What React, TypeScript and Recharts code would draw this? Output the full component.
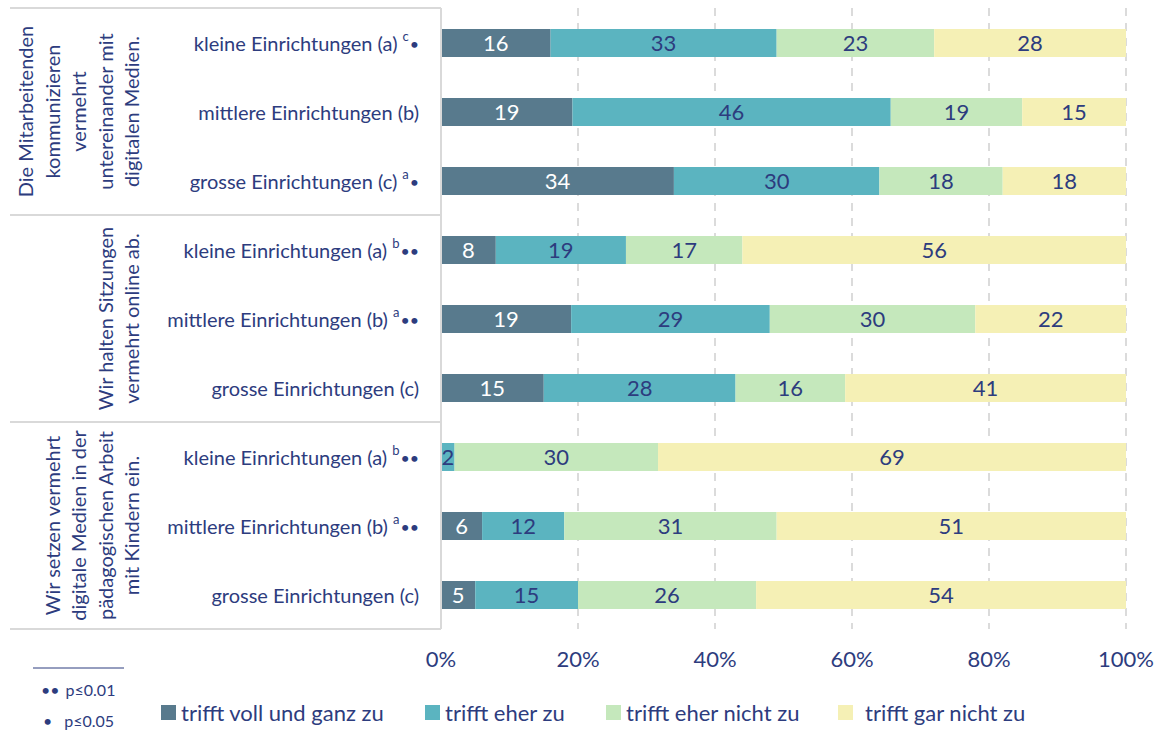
import { BarChart, Bar, XAxis, YAxis, CartesianGrid, LabelList } from "recharts";

const NAVY = "#2D3C7E";
const FONT = "Lato, 'Open Sans', sans-serif";

const categories = [
  "kleine Einrichtungen (a)",
  "mittlere Einrichtungen (b)",
  "grosse Einrichtungen (c)",
  "kleine Einrichtungen (a)",
  "mittlere Einrichtungen (b)",
  "grosse Einrichtungen (c)",
  "kleine Einrichtungen (a)",
  "mittlere Einrichtungen (b)",
  "grosse Einrichtungen (c)",
];
const sigLetters = ["c", "", "a", "b", "a", "", "b", "a", ""];
const sigDots = ["•", "", "•", "••", "••", "", "••", "••", ""];

const groupLines = [
  ["Die Mitarbeitenden", "kommunizieren", "vermehrt", "untereinander mit", "digitalen Medien."],
  ["Wir halten Sitzungen", "vermehrt online ab."],
  ["Wir setzen vermehrt", "digitale Medien in der", "pädagogischen Arbeit", "mit Kindern ein."],
];

const voll = [16, 19, 34, 8, 19, 15, 0, 6, 5];
const eher = [33, 46, 30, 19, 29, 28, 2, 12, 15];
const eherNicht = [23, 19, 18, 17, 30, 16, 30, 31, 26];
const gar = [28, 15, 18, 56, 22, 41, 69, 51, 54];

const seriesNames = ["trifft voll und ganz zu", "trifft eher zu", "trifft eher nicht zu", "trifft gar nicht zu"];
const seriesKeys = ["voll", "eher", "eherNicht", "gar"];
const seriesColors = ["#587A8D", "#5BB4C0", "#C5E8BC", "#F5F0B5"];
const labelColors = ["#FFFFFF", NAVY, NAVY, NAVY];

const xTicks = [0, 0.2, 0.4, 0.6, 0.8, 1];

const data = categories.map((name, i) => ({
  id: i,
  name,
  voll: voll[i],
  eher: eher[i],
  eherNicht: eherNicht[i],
  gar: gar[i],
}));

const CategoryTick = (props: any) => {
  const { y, payload } = props;
  const i = payload.value;
  return (
    <text x={419} y={y} textAnchor="end" dominantBaseline="central" fill={NAVY} fontSize={20} fontFamily={FONT}>
      {categories[i]}
      {sigLetters[i] ? (
        <tspan fontSize={13} dy={-7} dx={5}>{sigLetters[i]}</tspan>
      ) : null}
      {sigDots[i] ? (
        <tspan fontSize={16} dy={7} dx={1}>{sigDots[i]}</tspan>
      ) : null}
    </text>
  );
};

const legendX = [161, 425, 606, 838];
const legendGap = [5, 5, 5, 12];

const App = () => {
  const rowH = 69;
  const top = 8;
  return (
    <div style={{ position: "absolute", left: 0, top: 0, width: 1159, height: 731, background: "#fff", fontFamily: FONT }}>
      <BarChart
        width={1159}
        height={731}
        data={data}
        layout="vertical"
        stackOffset="expand"
        barSize={28}
        margin={{ top: 8, right: 33, left: 0, bottom: 62 }}
      >
        <CartesianGrid horizontal={false} strokeDasharray="8 7" stroke="#D0D0D0" strokeWidth={1.5} />
        <XAxis
          type="number"
          domain={[0, 1]}
          ticks={xTicks}
          tickFormatter={(v: number) => `${Math.round(v * 100)}%`}
          axisLine={false}
          tickLine={false}
          tickMargin={16}
          height={40}
          tick={{ fill: NAVY, fontSize: 22, fontFamily: FONT }}
        />
        <YAxis
          type="category"
          dataKey="id"
          width={441}
          tickLine={false}
          axisLine={{ stroke: "#D9D9D9", strokeWidth: 2 }}
          tick={<CategoryTick />}
        />
        {seriesKeys.map((k, s) => (
          <Bar key={k} dataKey={k} name={seriesNames[s]} stackId="a" fill={seriesColors[s]} isAnimationActive={false}>
            <LabelList
              dataKey={k}
              position="center"
              fill={labelColors[s]}
              fontSize={22}
              fontFamily={FONT}
              formatter={(v: any) => (v ? v : "")}
            />
          </Bar>
        ))}
      </BarChart>

      <svg width={1159} height={731} style={{ position: "absolute", left: 0, top: 0, pointerEvents: "none" }}>
        {[0, 3, 6, 9].map((r) => (
          <line key={r} x1={10} x2={441} y1={top + r * rowH} y2={top + r * rowH} stroke="#D9D9D9" strokeWidth={2} />
        ))}
        {groupLines.map((lines, g) => {
          const cy = top + (g * 3 + 1.5) * rowH;
          return lines.map((t, j) => {
            const x = 131 - (lines.length - 1 - j) * 26.5;
            return (
              <text
                key={`${g}-${j}`}
                x={x}
                y={cy}
                transform={`rotate(-90, ${x}, ${cy})`}
                textAnchor="middle"
                dominantBaseline="central"
                fill={NAVY}
                fontSize={20}
                fontFamily={FONT}
              >
                {t}
              </text>
            );
          });
        })}
        <line x1={33} x2={124} y1={668} y2={668} stroke={NAVY} strokeWidth={1} />
        <text x={41} y={689} dominantBaseline="central" fill={NAVY} fontSize={16} fontFamily={FONT}>
          ••<tspan dx={6}>p≤0.01</tspan>
        </text>
        <text x={43} y={720} dominantBaseline="central" fill={NAVY} fontSize={16} fontFamily={FONT}>
          •<tspan dx={12}>p≤0.05</tspan>
        </text>
      </svg>

      {seriesNames.map((n, s) => (
        <div
          key={n}
          style={{
            position: "absolute",
            left: legendX[s],
            top: 699,
            display: "flex",
            alignItems: "center",
            color: NAVY,
            fontSize: 22,
            whiteSpace: "nowrap",
          }}
        >
          <span style={{ display: "inline-block", width: 15, height: 15, background: seriesColors[s], marginRight: legendGap[s] }} />
          {n}
        </div>
      ))}
    </div>
  );
};

export default App;
